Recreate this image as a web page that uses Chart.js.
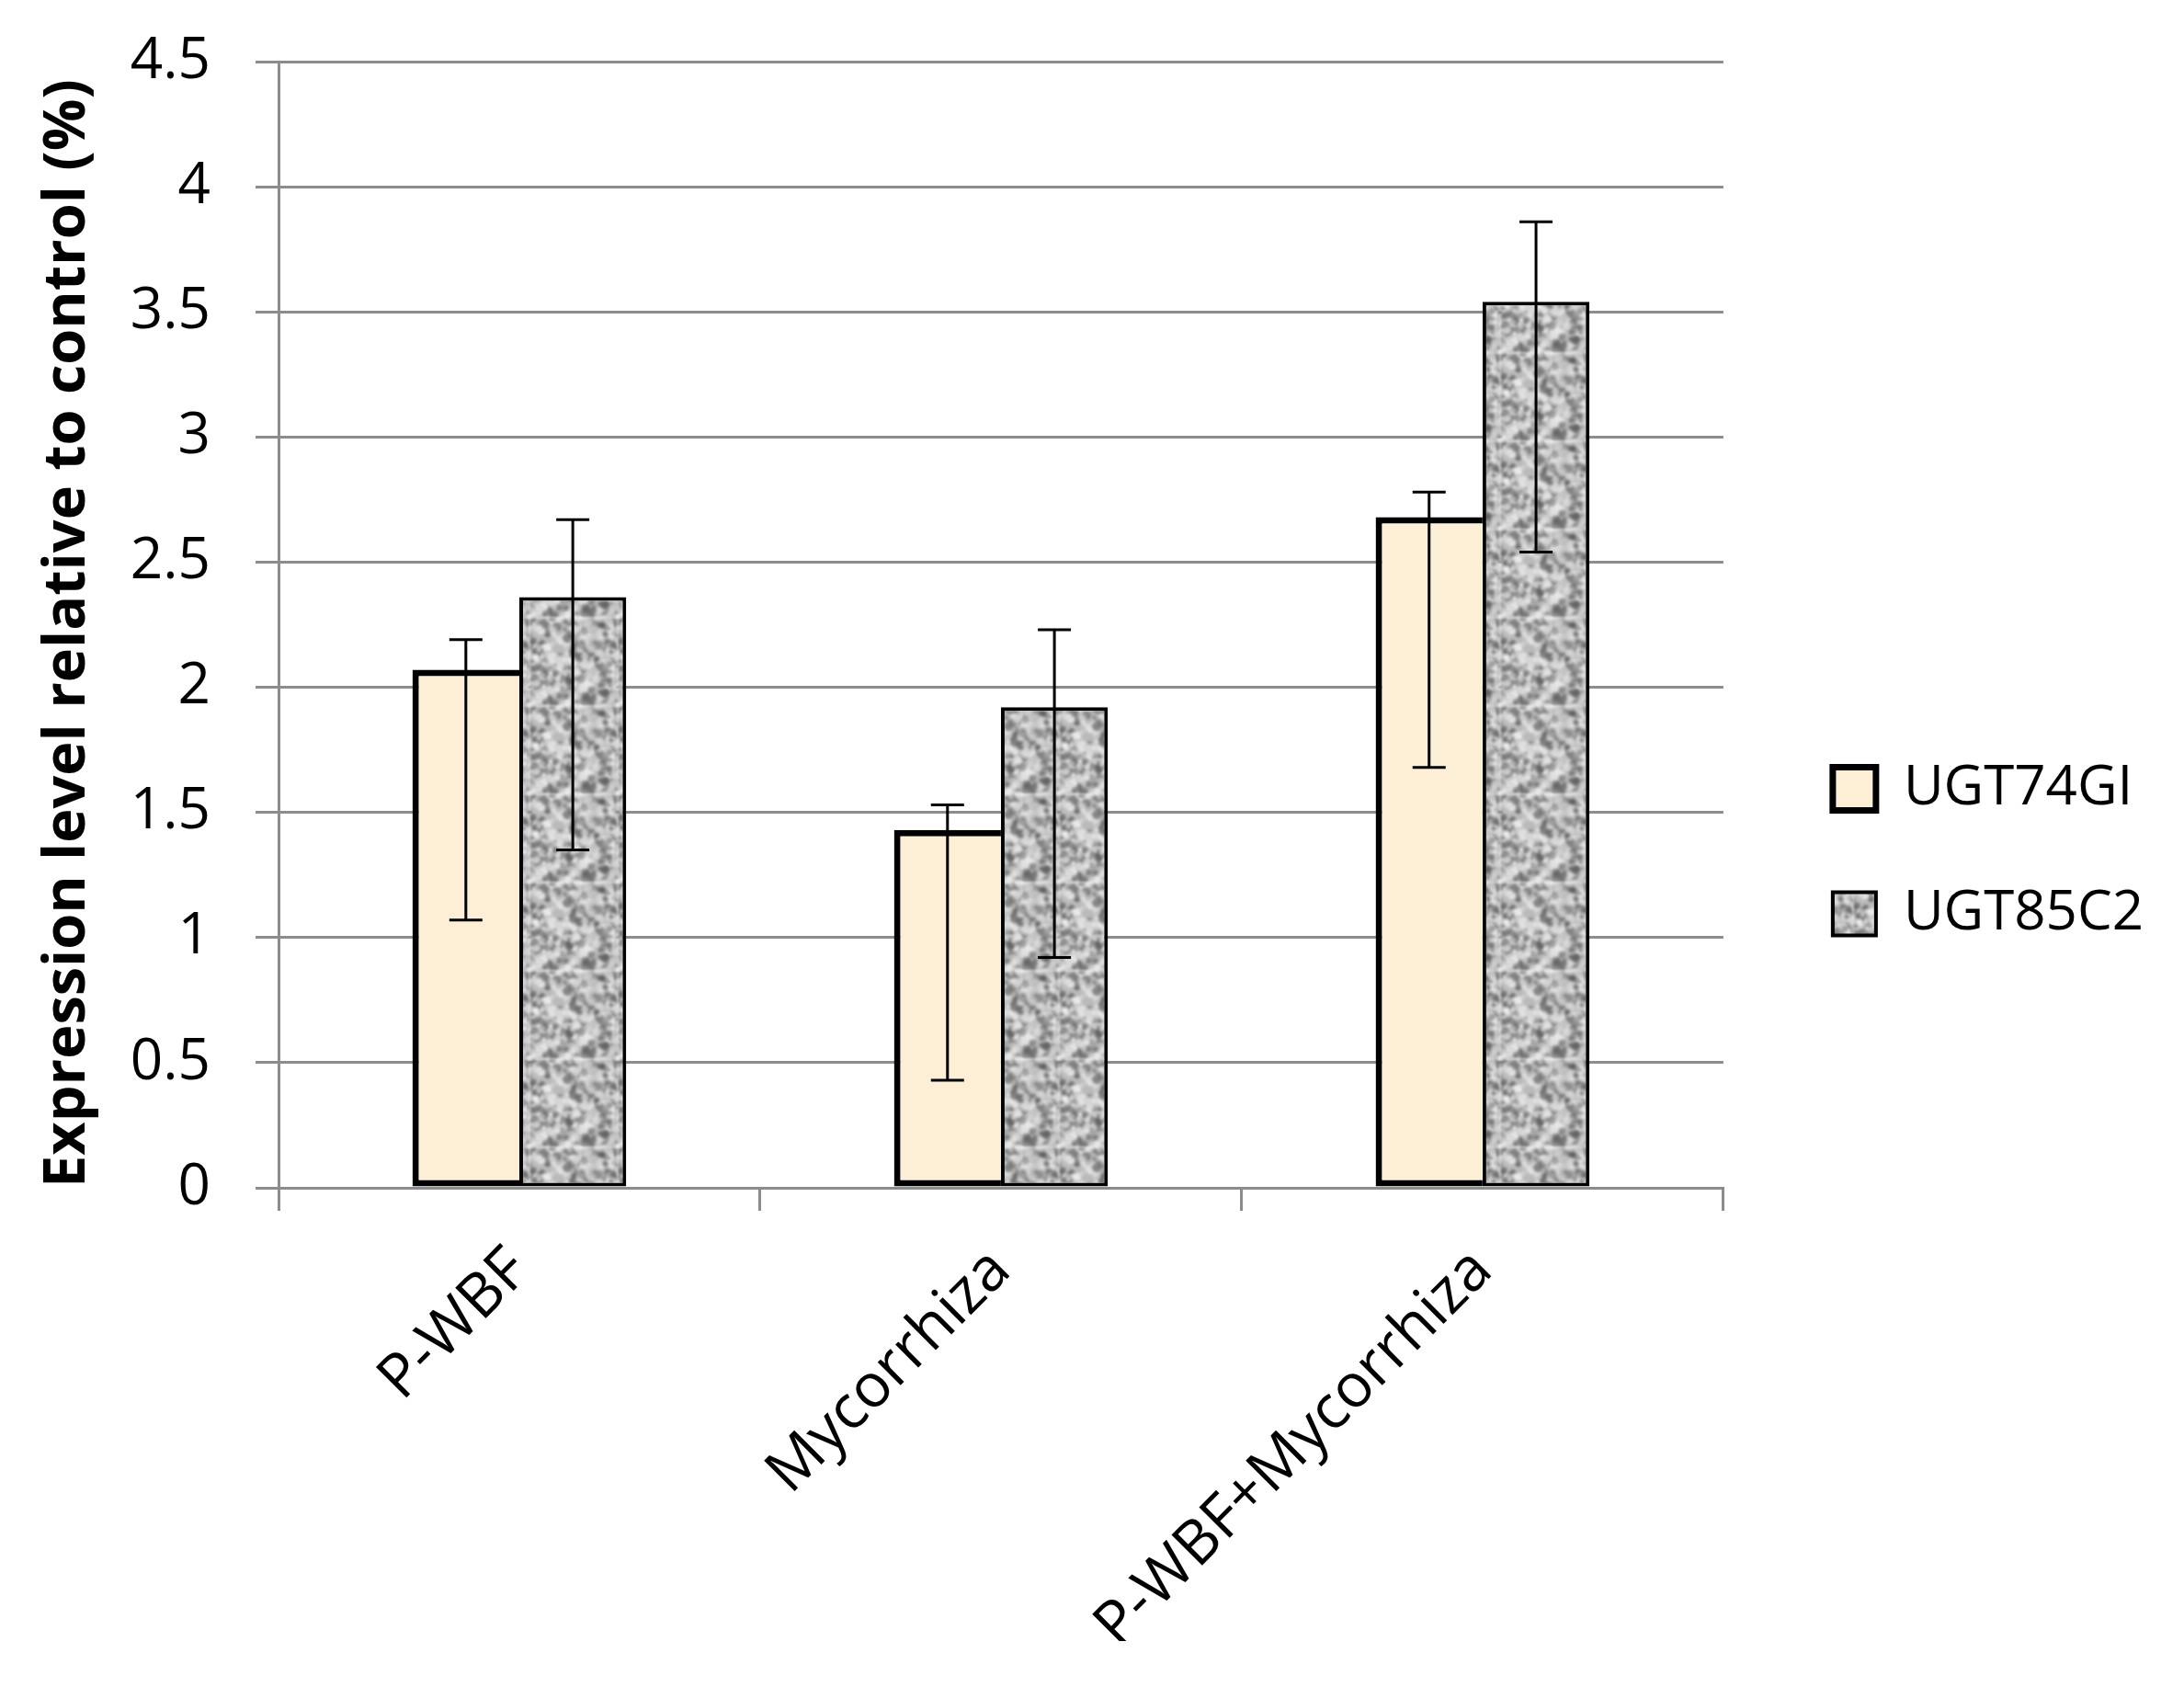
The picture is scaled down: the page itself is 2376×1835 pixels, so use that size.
<!DOCTYPE html>
<html>
<head>
<meta charset="utf-8">
<script src="https://cdn.jsdelivr.net/npm/chart.js@4.4.1/dist/chart.umd.min.js"></script>
<style>
  html, body { margin: 0; padding: 0; background: #ffffff; }
  #wrap { width: 2376px; height: 1835px; }
</style>
</head>
<body>
<div id="wrap"><canvas id="c" width="2376" height="1835"></canvas></div>
<script>
// ---- data ----
const categories = ['P-WBF', 'Mycorrhiza', 'P-WBF+Mycorrhiza'];
const seriesNames = ['UGT74GI', 'UGT85C2'];
const ugt74 = [2.07, 1.43, 2.68];
const ugt74High = [2.19, 1.53, 2.78];
const ugt74Low = [1.07, 0.43, 1.68];
const ugt85 = [2.36, 1.92, 3.54];
const ugt85High = [2.67, 2.23, 3.86];
const ugt85Low = [1.35, 0.92, 2.54];
const yMin = 0, yMax = 4.5, yStep = 0.5;
const yTitle = 'Expression level relative to control (%)';

// ---- mottled grey texture (deterministic) ----
function makeTexture() {
  const size = 96;
  const c = document.createElement('canvas');
  c.width = size; c.height = size;
  const g = c.getContext('2d');
  g.fillStyle = '#bababa';
  g.fillRect(0, 0, size, size);
  let s = 24681;
  const rnd = () => { s = (s * 1103515245 + 12345) & 0x7fffffff; return s / 0x7fffffff; };
  for (let i = 0; i < 520; i++) {
    const x = rnd() * size, y = rnd() * size, r = 1.5 + rnd() * 3.5;
    const v = rnd();
    const shade = v < 0.38 ? Math.floor(85 + rnd() * 60) : Math.floor(195 + rnd() * 55);
    g.fillStyle = `rgba(${shade},${shade},${shade},0.7)`;
    for (const dx of [-size, 0, size]) for (const dy of [-size, 0, size]) {
      g.beginPath(); g.arc(x + dx, y + dy, r, 0, Math.PI * 2); g.fill();
    }
  }
  const c2 = document.createElement('canvas');
  c2.width = size; c2.height = size;
  const g2 = c2.getContext('2d');
  g2.filter = 'blur(1.4px)';
  for (const dx of [-size, 0, size]) for (const dy of [-size, 0, size]) g2.drawImage(c, dx, dy);
  return g2.createPattern(c2, 'repeat');
}
const ctx = document.getElementById('c').getContext('2d');
const greyPattern = makeTexture();

// ---- error bar plugin ----
const errorBars = {
  id: 'errorBars',
  afterDatasetsDraw(chart) {
    const c = chart.ctx;
    const y = chart.scales.y;
    const ranges = [[ugt74High, ugt74Low], [ugt85High, ugt85Low]];
    c.save();
    c.strokeStyle = '#000';
    c.lineWidth = 3;
    chart.data.datasets.forEach((ds, di) => {
      const meta = chart.getDatasetMeta(di);
      meta.data.forEach((bar, i) => {
        const x = bar.x;
        const yh = y.getPixelForValue(ranges[di][0][i]);
        const yl = y.getPixelForValue(ranges[di][1][i]);
        const cap = 18;
        c.beginPath();
        c.moveTo(x, yh); c.lineTo(x, yl);
        c.moveTo(x - cap, yh); c.lineTo(x + cap, yh);
        c.moveTo(x - cap, yl); c.lineTo(x + cap, yl);
        c.stroke();
      });
    });
    c.restore();
  }
};

const bgPlugin = {
  id: 'bg',
  beforeDraw(chart) {
    const c = chart.ctx;
    c.save(); c.fillStyle = '#fff'; c.fillRect(0, 0, chart.width, chart.height); c.restore();
  }
};

const FONT = "'Open Sans', 'DejaVu Sans', sans-serif";
const legendLineWidths = [7, 4];

new Chart(ctx, {
  type: 'bar',
  data: {
    labels: categories,
    datasets: [
      {
        label: seriesNames[0],
        data: ugt74,
        backgroundColor: '#fcefd6',
        borderColor: '#000',
        borderWidth: { top: 7, left: 7, bottom: 7, right: 0 },
        borderSkipped: false,
        barPercentage: 1,
        categoryPercentage: 0.444
      },
      {
        label: seriesNames[1],
        data: ugt85,
        backgroundColor: greyPattern,
        borderColor: '#000',
        borderWidth: 4,
        borderSkipped: false,
        barPercentage: 1,
        categoryPercentage: 0.444
      }
    ]
  },
  options: {
    responsive: false,
    animation: false,
    devicePixelRatio: 1,
    layout: { padding: { top: 67, left: 0, right: 34, bottom: 50 } },
    plugins: {
      legend: {
        position: 'right',
        maxWidth: 600,
        labels: {
          font: { family: FONT, size: 60 },
          color: '#000',
          boxWidth: 47,
          boxHeight: 47,
          padding: 76,
          generateLabels(chart) {
            const items = Chart.defaults.plugins.legend.labels.generateLabels(chart);
            items.forEach((it, i) => { it.lineWidth = legendLineWidths[i]; });
            return items;
          }
        }
      },
      tooltip: { enabled: false }
    },
    scales: {
      y: {
        min: yMin, max: yMax,
        afterFit(s) { s.width = 303; s.paddingTop = 0; s.paddingBottom = 0; },
        ticks: {
          stepSize: yStep,
          font: { family: FONT, size: 62 },
          color: '#000',
          padding: 49,
          callback: (v) => String(v)
        },
        grid: {
          color: '#8c8c8c',
          lineWidth: 3,
          tickLength: 25,
          tickColor: '#8c8c8c'
        },
        border: { color: '#8c8c8c', width: 3 },
        title: {
          display: true,
          text: yTitle,
          align: 'start',
          font: { family: FONT, size: 63, weight: 'bold' },
          color: '#000',
          padding: { top: 36, bottom: 10 }
        }
      },
      yRightGap: {
        position: 'right',
        display: true,
        afterFit(s) { s.width = 43; s.paddingTop = 0; s.paddingBottom = 0; },
        ticks: { display: false },
        grid: { display: false, drawTicks: false },
        border: { display: false }
      },
      x: {
        afterFit(s) { s.height = 493; s.paddingLeft = 0; s.paddingRight = 0; },
        ticks: {
          font: { family: FONT, size: 66 },
          color: '#000',
          minRotation: 45,
          maxRotation: 45,
          padding: 26
        },
        grid: {
          drawOnChartArea: false,
          offset: true,
          color: '#8c8c8c',
          lineWidth: 3,
          tickLength: 25,
          tickColor: '#8c8c8c'
        },
        border: { color: '#8c8c8c', width: 3 }
      }
    }
  },
  plugins: [bgPlugin, errorBars]
});
</script>
</body>
</html>
